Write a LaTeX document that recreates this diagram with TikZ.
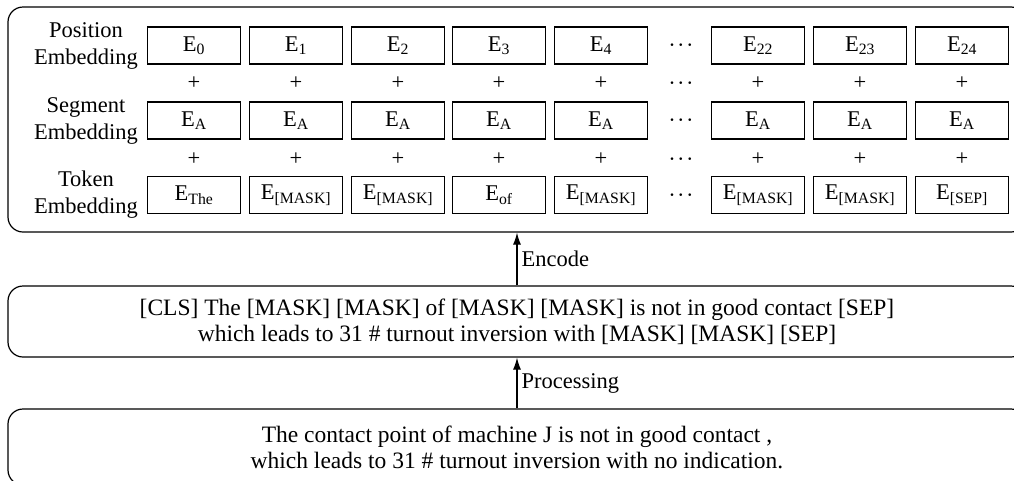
\documentclass[tikz,border=0pt]{standalone}
\usepackage{fontspec}
\setmainfont{Liberation Serif}
\usetikzlibrary{positioning, arrows.meta}

\begin{document}
\begin{tikzpicture}[
  x=1pt, y=-1pt,
  font=\fontsize{22.5}{27}\selectfont,
  >={Latex[length=12pt, width=8pt]},
  panel/.style={draw, line width=1.2pt, rounded corners=15pt, minimum width=1018pt,
                align=center, inner sep=0pt, font=\fontsize{23.5}{26}\selectfont},
  cell/.style={draw, line width=1.2pt, minimum width=93pt, minimum height=37pt, inner sep=0pt},
  rowlabel/.style={align=center, inner sep=0pt},
  plus/.style={inner sep=0pt},
  more/.style={inner sep=0pt, font=\fontsize{19}{19}\selectfont\boldmath},
  flow/.style={->, line width=1.2pt},
]
\useasboundingbox (0,0) rectangle (1014,480);

% ================= embeddings =================
\node[panel, minimum height=225pt] (emb) at (517,119.5) {};

\node[rowlabel] (poslabel) at (86,45.5) {Position\\Embedding};
\node[rowlabel] (seglabel) at (86,120.5) {Segment\\Embedding};
\node[rowlabel] (toklabel) at (86,195) {Token\\Embedding};

\foreach \i/\x/\pos/\tok in {1/194/0/The, 2/296/1/[MASK], 3/398/2/[MASK], 4/499/3/of,
                             5/601/4/[MASK], 6/758/22/[MASK], 7/860/23/[MASK], 8/962/24/[SEP]} {
  \node[cell] (p\i) at (\x,45.5) {E\textsubscript{\pos}};
  \node[plus] (pa\i) at (\x,83) {+};
  \node[cell] (s\i) at (\x,120.5) {E\textsubscript{A}};
  \node[plus] (pb\i) at (\x,159) {+};
  \node[cell] (t\i) at (\x,195) {E\textsubscript{\tok}};
}
\foreach \y [count=\k] in {45.5, 83, 120.5, 159, 195}
  \node[more] (dots\k) at (681,\y) {$\cdots$};

% ================= masked input =================
\node[panel, minimum height=71pt] (masked) at (517,321.5)
  {[CLS] The [MASK] [MASK] of [MASK] [MASK] is not in good contact [SEP]\\
   which leads to 31 \# turnout inversion with [MASK] [MASK] [SEP]};

% ================= raw sentence =================
\node[panel, minimum height=76pt] (raw) at (517,447)
  {The contact point of machine J is not in good contact ,\\
   which leads to 31 \# turnout inversion with no indication.};

\draw[flow] (masked.north) -- node[right, inner sep=4pt] {Encode} (emb.south);
\draw[flow] (raw.north) -- node[right, inner sep=4pt] {Processing} (masked.south);

\end{tikzpicture}
\end{document}
